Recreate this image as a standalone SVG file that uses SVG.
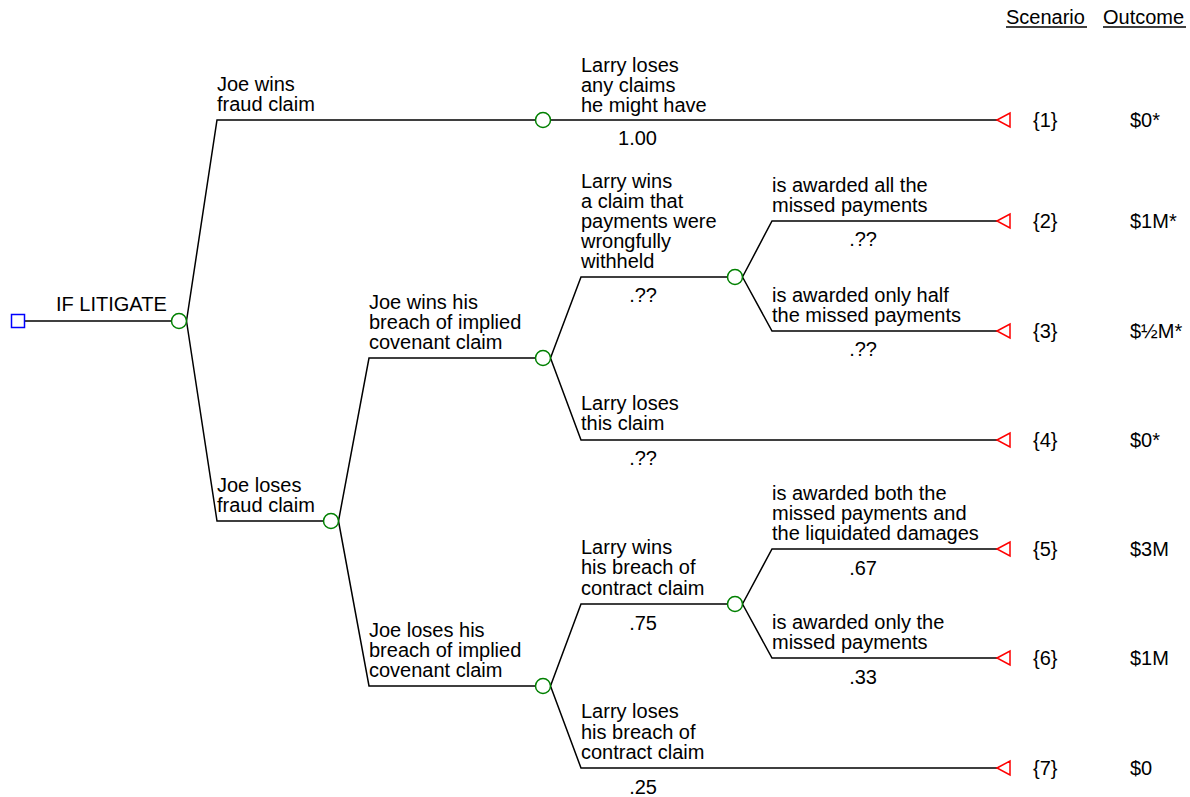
<svg xmlns="http://www.w3.org/2000/svg" width="1190" height="797" viewBox="0 0 1190 797">
<style>
text{font-family:"Liberation Sans",Arial,Helvetica,sans-serif;font-size:20px;fill:#000}
.p{text-anchor:end}
.e{fill:none;stroke:#000;stroke-width:1.5}
.c{fill:#fff;stroke:#008000;stroke-width:1.5}
.d{fill:#fff;stroke:#0000ff;stroke-width:1.5}
.t{fill:#fff;stroke:#ff0000;stroke-width:1.5}
</style>
<defs>
<polygon id="tri" class="t" points="0,0 13,-7 13,7"/>
</defs>
<rect width="1190" height="797" fill="#fff"/>
<g id="header">
<text x="1006" y="24">Scenario</text>
<text x="1103" y="24">Outcome</text>
<line x1="1006" y1="27" x2="1087" y2="27" stroke="#000" stroke-width="1.3"/>
<line x1="1103" y1="27" x2="1186" y2="27" stroke="#000" stroke-width="1.3"/>
</g>
<g id="connectors">
<path class="e" d="M24.5,321 H171.5"/>
<path class="e" d="M186.5,321 L217,120 H535.5 M550.5,120 H997"/>
<path class="e" d="M186.5,321 L217,521 H323.5"/>
<path class="e" d="M338.5,521 L369,358 H535.5 M338.5,521 L369,686 H535.5"/>
<path class="e" d="M550.5,358 L581,277 H727.5 M550.5,358 L581,440 H997"/>
<path class="e" d="M742.5,277 L772,221 H997 M742.5,277 L772,331 H997"/>
<path class="e" d="M550.5,686 L581,604 H727.5 M550.5,686 L581,768 H997"/>
<path class="e" d="M742.5,604 L772,549 H997 M742.5,604 L772,658 H997"/>
</g>
<g id="branch-labels">
<text x="56" y="311">IF LITIGATE</text>
<text x="217" y="91">Joe wins</text>
<text x="217" y="111">fraud claim</text>
<text x="217" y="492">Joe loses</text>
<text x="217" y="512">fraud claim</text>
<text x="581" y="72">Larry loses</text>
<text x="581" y="92">any claims</text>
<text x="581" y="112">he might have</text>
<text class="p" x="657" y="145">1.00</text>
<text x="369" y="309">Joe wins his</text>
<text x="369" y="329">breach of implied</text>
<text x="369" y="349">covenant claim</text>
<text x="581" y="188">Larry wins</text>
<text x="581" y="208">a claim that</text>
<text x="581" y="228">payments were</text>
<text x="581" y="248">wrongfully</text>
<text x="581" y="268">withheld</text>
<text class="p" x="657" y="302">.??</text>
<text x="772" y="192">is awarded all the</text>
<text x="772" y="212">missed payments</text>
<text class="p" x="877" y="246">.??</text>
<text x="772" y="302">is awarded only half</text>
<text x="772" y="322">the missed payments</text>
<text class="p" x="877" y="356">.??</text>
<text x="581" y="410">Larry loses</text>
<text x="581" y="430">this claim</text>
<text class="p" x="657" y="465">.??</text>
<text x="369" y="637">Joe loses his</text>
<text x="369" y="657">breach of implied</text>
<text x="369" y="677">covenant claim</text>
<text x="581" y="554">Larry wins</text>
<text x="581" y="574">his breach of</text>
<text x="581" y="595">contract claim</text>
<text class="p" x="657" y="630">.75</text>
<text x="772" y="500">is awarded both the</text>
<text x="772" y="520">missed payments and</text>
<text x="772" y="540">the liquidated damages</text>
<text class="p" x="877" y="575">.67</text>
<text x="772" y="629">is awarded only the</text>
<text x="772" y="649">missed payments</text>
<text class="p" x="877" y="684">.33</text>
<text x="581" y="718">Larry loses</text>
<text x="581" y="739">his breach of</text>
<text x="581" y="759">contract claim</text>
<text class="p" x="657" y="794">.25</text>
</g>
<g id="decision"><rect class="d" x="11.5" y="314.5" width="13" height="13"/></g>
<g id="chance0"><circle class="c" cx="179" cy="321" r="7.5"/></g>
<g id="chance1"><circle class="c" cx="543" cy="120" r="7.5"/></g>
<g id="chance2"><circle class="c" cx="331" cy="521" r="7.5"/></g>
<g id="chance3"><circle class="c" cx="543" cy="358" r="7.5"/></g>
<g id="chance4"><circle class="c" cx="735" cy="277" r="7.5"/></g>
<g id="chance5"><circle class="c" cx="543" cy="686" r="7.5"/></g>
<g id="chance6"><circle class="c" cx="735" cy="604" r="7.5"/></g>
<g id="end1"><use href="#tri" x="997" y="120"/><text x="1033" y="127">{1}</text><text x="1130" y="127">$0*</text></g>
<g id="end2"><use href="#tri" x="997" y="221"/><text x="1033" y="228">{2}</text><text x="1130" y="228">$1M*</text></g>
<g id="end3"><use href="#tri" x="997" y="331"/><text x="1033" y="338">{3}</text><text x="1130" y="338">$½M*</text></g>
<g id="end4"><use href="#tri" x="997" y="440"/><text x="1033" y="447">{4}</text><text x="1130" y="447">$0*</text></g>
<g id="end5"><use href="#tri" x="997" y="549"/><text x="1033" y="556">{5}</text><text x="1130" y="556">$3M</text></g>
<g id="end6"><use href="#tri" x="997" y="658"/><text x="1033" y="665">{6}</text><text x="1130" y="665">$1M</text></g>
<g id="end7"><use href="#tri" x="997" y="768"/><text x="1033" y="775">{7}</text><text x="1130" y="775">$0</text></g>
</svg>
